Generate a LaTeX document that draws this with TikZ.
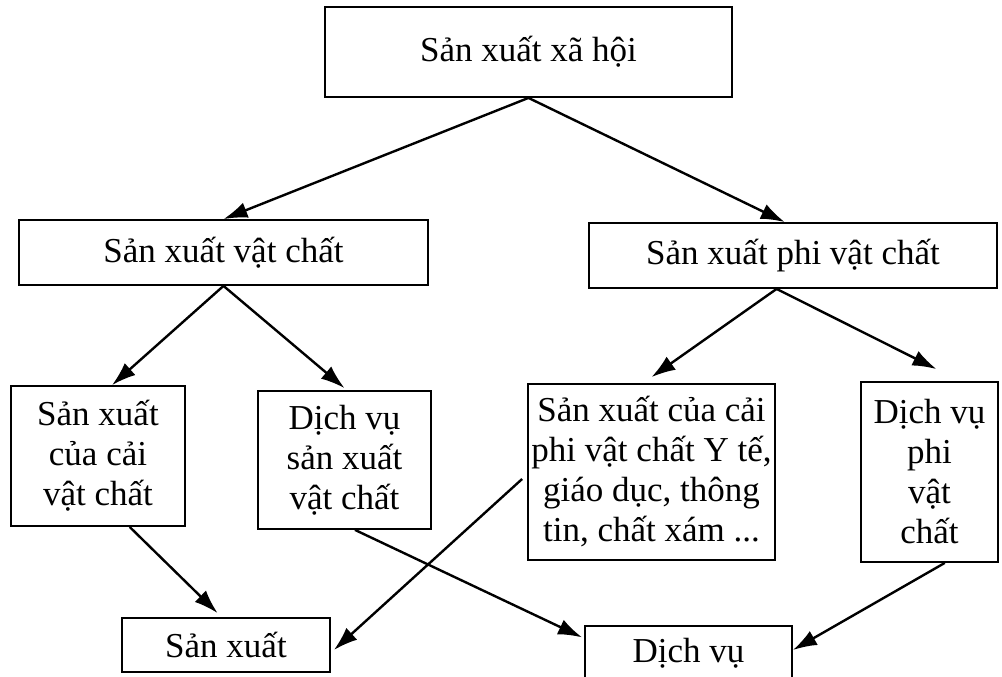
\documentclass[tikz,border=0pt]{standalone}
\usepackage{fontspec}
\setmainfont{Liberation Serif}
\usetikzlibrary{arrows.meta,calc}
\begin{document}
\begin{tikzpicture}[x=0.5pt,y=-0.5pt,
  box/.style={draw,line width=0.9pt,rectangle,inner sep=0pt,align=center,font=\fontsize{17.5}{20}\selectfont},
  arr/.style={line width=1.2pt,-{Latex[length=12pt,width=8pt]}}]
\useasboundingbox (0,0) rectangle (1002,676);
\node[box,minimum width=203.5pt,minimum height=45pt] (top) at (528.5,52) {Sản xuất xã hội};
\node[box,minimum width=204.5pt,minimum height=32.5pt] (svc) at (223.5,252.5) {Sản xuất vật chất};
\node[box,minimum width=204pt,minimum height=32.5pt] (spvc) at (793,255.5) {Sản xuất phi vật chất};
\node[box,minimum width=87pt,minimum height=70pt] (b1) at (98,456) {Sản xuất\\của cải\\vật chất};
\node[box,minimum width=86.5pt,minimum height=69pt] (b2) at (344.5,460) {Dịch vụ\\sản xuất\\vật chất};
\node[box,minimum width=123.5pt,minimum height=88pt] (b3) at (651.5,472) {Sản xuất của cải\\phi vật chất Y tế,\\giáo dục, thông\\tin, chất xám ...};
\node[box,minimum width=68.5pt,minimum height=90pt] (b4) at (929.5,472) {Dịch vụ\\phi\\vật\\chất};
\node[box,minimum width=104pt,minimum height=27pt] (sx) at (226,645) {Sản xuất};
\node[box,minimum width=103.5pt,minimum height=27pt] (dv) at (688.5,653) {Dịch vụ};

\draw[arr] (top.south) -- (svc.north);
\draw[arr] (top.south) -- ($(spvc.north west)!0.48!(spvc.north east)$);
\draw[arr] (svc.south) -- ($(b1.north west)!0.58!(b1.north east)$);
\draw[arr] (svc.south) -- ($(b2.north)+(0,-2)$);
\draw[arr] ($(spvc.south west)!0.46!(spvc.south east)$) -- ($(b3.north)+(0,-6)$);
\draw[arr] ($(spvc.south west)!0.46!(spvc.south east)$) -- ($(b4.north)+(7,-12)$);
\draw[arr] ($(b1.south west)!0.68!(b1.south east)$) -- ($(sx.north west)!0.46!(sx.north east)+(0,-4)$);
\draw[arr] ($(b2.south west)!0.56!(b2.south east)$) -- ($(dv.north west)!0.22!(dv.south west)+(-2,0)$);
\draw[arr] ($(b3.west)+(-5,7)$) -- ($(sx.east)+(3,5)$);
\draw[arr] ($(b4.south west)!0.61!(b4.south east)$) -- ($(dv.east)+(0,-3)$);
\end{tikzpicture}
\end{document}
